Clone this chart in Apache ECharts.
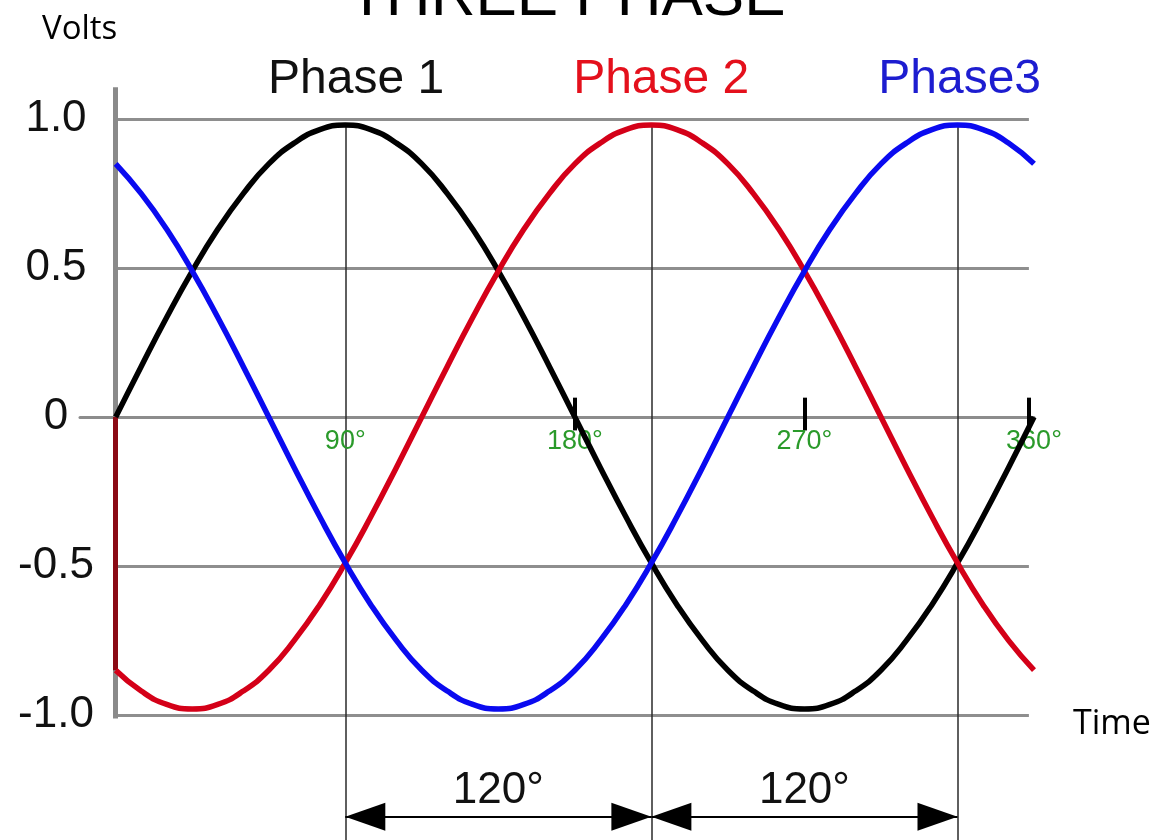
<!DOCTYPE html>
<html>
<head>
<meta charset="utf-8">
<title>Three phase</title>
<script src="https://cdn.jsdelivr.net/npm/echarts@6.0.0/dist/echarts.min.js"></script>
<style>
  html, body { margin: 0; padding: 0; background: #fff; }
  #chart { width: 1159px; height: 840px; }
</style>
</head>
<body>
<div id="chart"></div>
<script>
  // angle in degrees, one sample every 10°
  const degrees = [0, 10, 20, 30, 40, 50, 60, 70, 80, 90, 100, 110, 120, 130, 140, 150, 160, 170, 180,
                   190, 200, 210, 220, 230, 240, 250, 260, 270, 280, 290, 300, 310, 320, 330, 340, 350, 360];
  // volts
  const phase1 = [0, 0.17, 0.335, 0.49, 0.63, 0.75, 0.85, 0.92, 0.965, 0.98, 0.965, 0.92, 0.85,
                  0.75, 0.63, 0.49, 0.335, 0.17, 0, -0.17, -0.335, -0.49, -0.63, -0.75, -0.85,
                  -0.92, -0.965, -0.98, -0.965, -0.92, -0.85, -0.75, -0.63, -0.49, -0.335, -0.17, 0];
  const phase2 = [-0.85, -0.92, -0.965, -0.98, -0.965, -0.92, -0.85, -0.75, -0.63, -0.49, -0.335, -0.17, 0,
                  0.17, 0.335, 0.49, 0.63, 0.75, 0.85, 0.92, 0.965, 0.98, 0.965, 0.92, 0.85,
                  0.75, 0.63, 0.49, 0.335, 0.17, 0, -0.17, -0.335, -0.49, -0.63, -0.75, -0.85];
  const phase3 = [0.85, 0.75, 0.63, 0.49, 0.335, 0.17, 0, -0.17, -0.335, -0.49, -0.63, -0.75, -0.85,
                  -0.92, -0.965, -0.98, -0.965, -0.92, -0.85, -0.75, -0.63, -0.49, -0.335, -0.17, 0,
                  0.17, 0.335, 0.49, 0.63, 0.75, 0.85, 0.92, 0.965, 0.98, 0.965, 0.92, 0.85];

  const phaseNames = ['Phase 1', 'Phase 2', 'Phase3'];
  const lineColors = ['#000000', '#d40018', '#0a0af0'];
  const nameColors = ['#111111', '#e4101c', '#1d1dd0'];

  const yTicks = [-1, -0.5, 0, 0.5, 1];
  const yTickLabels = ['-1.0', '-0.5', '0', '0.5', '1.0'];
  const degreeTicks = [90, 180, 270, 360];
  const degreeLabels = ['90°', '180°', '270°', '360°'];
  const tickMarks = [180, 270, 358];     // short black ticks on the zero line
  const peakDegrees = [90, 210, 330];    // thin vertical lines at each peak
  const shiftLabels = ['120°', '120°'];

  const FONT = 'Liberation Sans';
  const gridEnd = 358;
  const arrowY = -1.342;

  let chart = echarts.init(document.getElementById('chart'));

  function pairs(values) {
    return degrees.map((d, i) => [d, values[i]]);
  }

  // horizontal grid lines, except zero which is the x axis
  let gridLines = yTicks.filter(v => v !== 0).map(v => [
    {coord: [0, v], lineStyle: {color: '#8e8e8e', width: 3, type: 'solid'}},
    {coord: [gridEnd, v]}
  ]);

  let peakLines = peakDegrees.map(d => [
    {coord: [d, 0.98], lineStyle: {color: '#2a2a2a', width: 1.5, type: 'solid'}},
    {coord: [d, -1.42]}
  ]);

  let tickLines = tickMarks.map(d => [
    {coord: [d, 0.065], lineStyle: {color: '#000', width: 4, type: 'solid'}},
    {coord: [d, -0.045]}
  ]);

  // green degree labels hang under the zero line
  let degreeLines = degreeTicks.map((d, i) => [
    {
      coord: [d, 0], lineStyle: {color: 'rgba(0,0,0,0)', width: 1, type: 'solid'},
      label: {
        show: true, position: 'end', distance: 8, formatter: degreeLabels[i],
        color: '#2a9a2a', fontSize: 27, fontFamily: FONT
      }
    },
    {coord: [d, -0.01]}
  ]);

  let axisLine = [[
    {coord: [0, 1.107], lineStyle: {color: '#8a8a8a', width: 5, type: 'solid'}},
    {coord: [0, -1.012]}
  ]];

  let arrows = shiftLabels.map((txt, i) => [
    {
      coord: [peakDegrees[i], arrowY],
      symbol: 'triangle', symbolSize: [28, 40], symbolOffset: [0, 20],
      lineStyle: {color: '#000', width: 2, type: 'solid'},
      label: {
        show: true, formatter: txt, position: 'insideMiddleTop', distance: 4,
        fontSize: 44, fontFamily: FONT, color: '#111'
      }
    },
    {
      coord: [peakDegrees[i + 1], arrowY],
      symbol: 'triangle', symbolSize: [28, 40], symbolOffset: [0, 20]
    }
  ]);

  chart.setOption({
    animation: false,
    backgroundColor: '#fff',
    title: [
      {
        text: 'THREE PHASE', left: 348, top: -33, padding: 0,
        textStyle: {fontSize: 62, fontWeight: 'normal', fontFamily: FONT, color: '#000'}
      },
      {
        text: 'Volts', left: 42, top: 13, padding: 0,
        textStyle: {fontSize: 33, fontWeight: 'normal', fontFamily: 'Open Sans', color: '#000'}
      },
      {
        text: 'Time', left: 1073, top: 707, padding: 0,
        textStyle: {fontSize: 34, fontWeight: 'normal', fontFamily: 'Open Sans', color: '#000'}
      }
    ],
    legend: {
      left: 263, top: 56, itemGap: 124, padding: 0,
      icon: 'none', itemWidth: 0, itemHeight: 10,
      selectedMode: false,
      textStyle: {fontSize: 48, fontFamily: FONT},
      data: phaseNames.map((n, i) => ({name: n, textStyle: {color: nameColors[i]}}))
    },
    grid: {left: 80, right: 125, top: 0, bottom: 0, outerBoundsMode: 'none', containLabel: false},
    xAxis: {
      type: 'value', min: -14, max: 360,
      axisLine: {onZero: true, lineStyle: {color: '#8c8c8c', width: 3}},
      axisTick: {show: false},
      splitLine: {show: false},
      axisLabel: {show: false}
    },
    yAxis: {
      type: 'value', min: -1.42, max: 1.40,
      axisLine: {show: false},
      axisTick: {show: false},
      splitLine: {show: false},
      axisLabel: {
        customValues: yTicks,
        formatter: v => yTickLabels[yTicks.indexOf(v)],
        align: 'center', margin: 24,
        color: '#111', fontSize: 44, fontFamily: FONT
      }
    },
    series: [
      {
        name: phaseNames[0], type: 'line', smooth: true, showSymbol: false,
        data: pairs(phase1), color: lineColors[0],
        lineStyle: {width: 5.5, color: lineColors[0]},
        markLine: {
          silent: true, z: 1, symbol: ['none', 'none'],
          label: {show: false},
          data: [...gridLines, ...peakLines, ...axisLine, ...tickLines, ...degreeLines, ...arrows]
        }
      },
      {
        name: phaseNames[1], type: 'line', smooth: true, showSymbol: false,
        data: pairs(phase2), color: lineColors[1],
        lineStyle: {width: 5.5, color: lineColors[1]},
        markLine: {
          // the drop from 0 to the first red value along the axis
          silent: true, z: 3, symbol: ['none', 'none'],
          label: {show: false},
          data: [[
            {coord: [0, 0], lineStyle: {color: '#8b0a14', width: 5, type: 'solid'}},
            {coord: [0, phase2[0]]}
          ]]
        }
      },
      {
        name: phaseNames[2], type: 'line', smooth: true, showSymbol: false,
        data: pairs(phase3), color: lineColors[2],
        lineStyle: {width: 5.5, color: lineColors[2]}
      }
    ]
  });
</script>
</body>
</html>
